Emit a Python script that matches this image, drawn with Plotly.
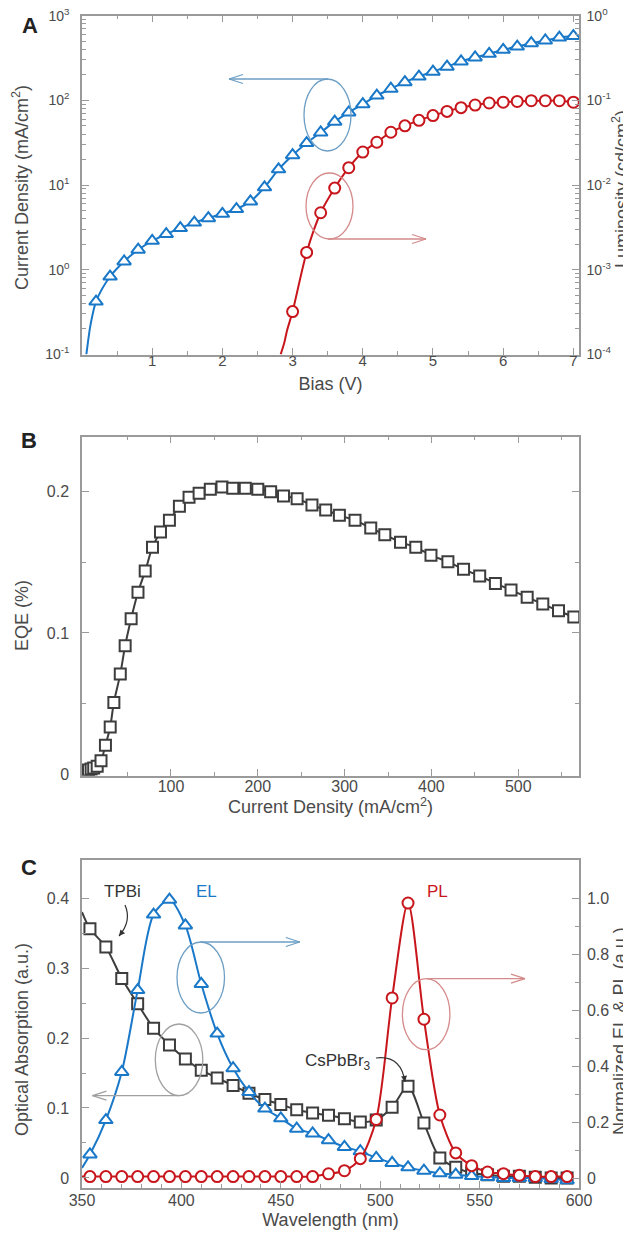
import plotly.graph_objects as go

FONT = "Liberation Sans, Arial, Helvetica, sans-serif"
TXT = "#4a4a4a"
AXC = "#9a9a9a"
BLUE = "#1a78c8"
RED = "#c8161d"
DARK = "#3d3d3d"
W, H = 631, 1234

# ---------------- Panel A data ----------------
bias_v = [0.2, 0.4, 0.6, 0.8, 1.0, 1.2, 1.4, 1.6, 1.8, 2.0, 2.2, 2.4, 2.6, 2.8, 3.0, 3.2, 3.4, 3.6,
          3.8, 4.0, 4.2, 4.4, 4.6, 4.8, 5.0, 5.2, 5.4, 5.6, 5.8, 6.0, 6.2, 6.4, 6.6, 6.8, 7.0]
current_density = [0.42, 0.83, 1.25, 1.72, 2.19, 2.63, 3.1, 3.6, 4.06, 4.57, 5.2, 6.4, 9.4, 15.3,
                   22.5, 31.3, 41.7, 56, 72, 90, 114, 137, 164, 191, 218, 250, 288, 321, 354, 395,
                   432, 473, 509, 552, 575]
j_onset_v = [0.062, 0.09, 0.12]
j_onset = [0.1, 0.15, 0.22]

lum_v = [3.0, 3.2, 3.4, 3.6, 3.8, 4.0, 4.2, 4.4, 4.6, 4.8, 5.0, 5.2, 5.4, 5.6, 5.8, 6.0, 6.2, 6.4,
         6.6, 6.8, 7.0]
luminosity = [3.2e-4, 1.6e-3, 4.7e-3, 9.2e-3, 1.6e-2, 2.45e-2, 3.2e-2, 4.2e-2, 5.0e-2, 5.8e-2,
              6.6e-2, 7.4e-2, 8.2e-2, 8.8e-2, 9.3e-2, 9.5e-2, 9.7e-2, 9.9e-2, 9.9e-2, 9.9e-2, 9.5e-2]
l_onset_v = [2.83, 2.88, 2.92]
l_onset = [1.0e-4, 1.35e-4, 1.9e-4]

# ---------------- Panel B data ----------------
eqe_j = [5, 8, 11, 15, 19.4, 24.5, 30, 34.2, 41.6, 47.2, 54.1, 62, 70.3, 78.7, 87.9, 98.2, 109.7,
         120.8, 132.4, 145.3, 158.8, 171.2, 185.6, 200, 214.8, 229.6, 245.3, 262.4, 278.2, 294,
         312, 330.1, 346.3, 364.4, 382, 399.5, 419, 437, 455.6, 473.7, 491.7, 510.3, 528.3,
         546.4, 564]
eqe = [0.0033, 0.004, 0.0047, 0.006, 0.0099, 0.0207, 0.0337, 0.051, 0.071, 0.091, 0.110, 0.1287,
       0.1437, 0.1605, 0.1713, 0.1795, 0.1894, 0.1958, 0.1986, 0.2014, 0.203, 0.2021, 0.2021,
       0.2014, 0.1997, 0.1967, 0.1948, 0.1903, 0.1868, 0.183, 0.1795, 0.1741, 0.1694, 0.164,
       0.1605, 0.1548, 0.1503, 0.1449, 0.1402, 0.135, 0.1303, 0.1252, 0.1205, 0.1157, 0.1113]

# ---------------- Panel C data ----------------
wavelength = [354, 362, 370, 378, 386, 394, 402, 410, 418, 426, 434, 442, 450, 458, 466, 474, 482,
              490, 498, 506, 514, 522, 530, 538, 546, 554, 562, 570, 578, 586, 594]
absorption = [0.356, 0.330, 0.285, 0.249, 0.214, 0.190, 0.170, 0.154, 0.143, 0.132, 0.121, 0.112,
              0.105, 0.0976, 0.0929, 0.0895, 0.0848, 0.080, 0.083, 0.101, 0.131, 0.0786, 0.0286,
              0.0152, 0.0071, 0.0048, 0.0024, 0.0024, 0.001, 0.0, 0.0]
el = [0.084, 0.207, 0.379, 0.671, 0.941, 0.994, 0.902, 0.693, 0.516, 0.392, 0.307, 0.248, 0.213,
      0.176, 0.159, 0.135, 0.111, 0.0956, 0.0717, 0.0538, 0.038, 0.026, 0.0167, 0.012, 0.007,
      0.0036, 0.0, 0.0, 0.0, -0.004, -0.008]
pl = [0.005, 0.005, 0.005, 0.005, 0.005, 0.005, 0.005, 0.005, 0.005, 0.005, 0.005, 0.005, 0.005,
      0.005, 0.005, 0.015, 0.026, 0.069, 0.209, 0.643, 0.982, 0.567, 0.225, 0.0896, 0.044, 0.0215,
      0.0155, 0.0096, 0.005, 0.005, 0.005]
edge_wl = [350]
absorption_edge = [0.38]
el_edge = [0.036]
pl_edge = [0.005]

fig = go.Figure()

def line_trace(x, y, color, xa, ya, width=2):
    return go.Scatter(x=x, y=y, mode="lines", xaxis=xa, yaxis=ya, showlegend=False,
                      line=dict(color=color, width=width, shape="spline", smoothing=0.8),
                      hoverinfo="skip")

def mark_trace(x, y, color, symbol, size, xa, ya):
    return go.Scatter(x=x, y=y, mode="markers", xaxis=xa, yaxis=ya, showlegend=False,
                      marker=dict(symbol=symbol, size=size, color="white",
                                  line=dict(color=color, width=2)))

# A
fig.add_trace(line_trace(j_onset_v + bias_v, j_onset + current_density, BLUE, "x", "y"))
fig.add_trace(mark_trace(bias_v, current_density, BLUE, "triangle-up", 12, "x", "y"))
fig.add_trace(line_trace(l_onset_v + lum_v, l_onset + luminosity, RED, "x", "y2"))
fig.add_trace(mark_trace(lum_v, luminosity, RED, "circle", 11, "x", "y2"))
# B
fig.add_trace(line_trace(eqe_j, eqe, DARK, "x2", "y3"))
fig.add_trace(mark_trace(eqe_j, eqe, DARK, "square", 11, "x2", "y3"))
# C
fig.add_trace(line_trace(edge_wl + wavelength, absorption_edge + absorption, DARK, "x3", "y4"))
fig.add_trace(mark_trace(wavelength, absorption, DARK, "square", 11, "x3", "y4"))
fig.add_trace(line_trace(edge_wl + wavelength, el_edge + el, BLUE, "x3", "y5"))
fig.add_trace(mark_trace(wavelength, el, BLUE, "triangle-up", 12, "x3", "y5"))
fig.add_trace(line_trace(edge_wl + wavelength, pl_edge + pl, RED, "x3", "y5"))
fig.add_trace(mark_trace(wavelength, pl, RED, "circle", 11, "x3", "y5"))

def px_x(px):
    return px / W

def px_y(py):
    return 1 - py / H

domx = [px_x(74), px_x(571)]
domA = [px_y(346.5), px_y(7.5)]
domB = [px_y(767.7), px_y(428.7)]
domC = [px_y(1180), px_y(852)]

tick16 = dict(family=FONT, size=16, color=TXT)
tick15 = dict(family=FONT, size=15, color=TXT)
tick14 = dict(family=FONT, size=14, color=TXT)
TITLE_SIZE = 18
titlefont = dict(family=FONT, size=TITLE_SIZE, color=TXT)

def axis(**kw):
    base = dict(showline=True, linecolor=AXC, linewidth=1.5, ticks="inside", ticklen=7,
                tickcolor=AXC, tickwidth=1.2, showgrid=False, zeroline=False,
                tickfont=tick16, automargin=False, ticklabeloverflow="allow")
    base.update(kw)
    return base

logminor_j = [k * 10.0 ** e for e in range(-1, 3) for k in range(2, 10)]
logminor_l = [k * 10.0 ** e for e in range(-4, 0) for k in range(2, 10)]
minor_log = lambda vals: dict(ticks="inside", ticklen=4, tickcolor=AXC, tickvals=vals)

LEFT_OFF = 8
RIGHT_OFF = 3

fig.update_layout(
    width=W, height=H, margin=dict(l=0, r=0, t=0, b=0),
    paper_bgcolor="white", plot_bgcolor="white",
    font=dict(family=FONT, color=TXT),
    xaxis=axis(domain=domx, anchor="y", range=[0, 7.08], tickvals=[1, 2, 3, 4, 5, 6, 7],
               tickfont=tick15, ticklabelstandoff=-8,
               minor=dict(ticks="inside", ticklen=4, tickcolor=AXC,
                          tickvals=[0.5, 1.5, 2.5, 3.5, 4.5, 5.5, 6.5]),
               mirror="ticks",
               title=dict(text="Bias (V)", font=titlefont, standoff=9)),
    yaxis=axis(domain=domA, anchor="x", type="log", range=[-1.002, 3.002],
               tickvals=[0.1, 1, 10, 100, 1000], tickfont=tick14, ticklabelstandoff=LEFT_OFF,
               ticktext=["10<sup>-1</sup>", "10<sup>0</sup>", "10<sup>1</sup>", "10<sup>2</sup>",
                         "10<sup>3</sup>"],
               minor=minor_log(logminor_j)),
    yaxis2=axis(domain=domA, anchor="x", overlaying="y", side="right", type="log",
                range=[-4.002, 0.002], tickfont=tick14, ticklabelstandoff=RIGHT_OFF,
                tickvals=[1e-4, 1e-3, 1e-2, 1e-1, 1],
                ticktext=["10<sup>-4</sup>", "10<sup>-3</sup>", "10<sup>-2</sup>",
                          "10<sup>-1</sup>", "10<sup>0</sup>"],
                minor=minor_log(logminor_l)),
    xaxis2=axis(domain=domx, anchor="y3", range=[-2.5, 570], tickvals=[100, 200, 300, 400, 500],
                ticklabelstandoff=-5,
                minor=dict(ticks="inside", ticklen=4, tickcolor=AXC,
                           tickvals=[50, 150, 250, 350, 450, 550]),
                mirror="ticks",
                title=dict(text="Current Density (mA/cm<sup>2</sup>)", font=titlefont, standoff=7)),
    yaxis3=axis(domain=domB, anchor="x2", range=[-0.0007, 0.2385], tickvals=[0, 0.1, 0.2],
                ticktext=["0", "0.1", "0.2"], ticklabelstandoff=LEFT_OFF,
                minor=dict(ticks="inside", ticklen=4, tickcolor=AXC, tickvals=[0.05, 0.15]),
                mirror="ticks"),
    xaxis3=axis(domain=domx, anchor="y4", range=[350, 600],
                tickvals=[350, 400, 450, 500, 550, 600], ticklabelstandoff=-3,
                minor=dict(ticks="inside", ticklen=4, tickcolor=AXC, dtick=10, tick0=350),
                mirror=True,
                title=dict(text="Wavelength (nm)", font=titlefont, standoff=5)),
    yaxis4=axis(domain=domC, anchor="x3", range=[-0.0143, 0.4543], ticklabelstandoff=LEFT_OFF,
                tickvals=[0, 0.1, 0.2, 0.3, 0.4], ticktext=["0", "0.1", "0.2", "0.3", "0.4"],
                minor=dict(ticks="inside", ticklen=4, tickcolor=AXC,
                           tickvals=[0.05, 0.15, 0.25, 0.35])),
    yaxis5=axis(domain=domC, anchor="x3", overlaying="y4", side="right", ticklabelstandoff=RIGHT_OFF,
                range=[-0.0357, 1.1357], tickvals=[0, 0.2, 0.4, 0.6, 0.8, 1.0],
                ticktext=["0", "0.2", "0.4", "0.6", "0.8", "1.0"],
                minor=dict(ticks="inside", ticklen=4, tickcolor=AXC,
                           tickvals=[0.1, 0.3, 0.5, 0.7, 0.9])),
)

# Vertical axis titles (placed as rotated text; x shifted to compensate rotation offset)
ytitles = [("Current Density (mA/cm<sup>2</sup>)", 22, 180),
           ("Luminosity (cd/cm<sup>2</sup>)", 621, 181),
           ("EQE (%)", 23, 608),
           ("Optical Absorption (a.u.)", 23, 1032),
           ("Normalized EL &amp; PL (a.u.)", 621, 1023)]
for t, tx, ty in ytitles:
    fig.add_annotation(x=px_x(tx), y=px_y(ty), xref="paper", yref="paper", text=t,
                       textangle=-90, showarrow=False, font=titlefont, xshift=-9,
                       xanchor="center", yanchor="middle")

# Panel letters
for letter, (lx, ly) in {"A": (22, 17), "B": (21, 433), "C": (21, 859)}.items():
    fig.add_annotation(x=px_x(lx), y=px_y(ly), xref="paper", yref="paper", text="<b>%s</b>" % letter,
                       showarrow=False, font=dict(family=FONT, size=22, color="#222222"),
                       xanchor="center", yanchor="middle")

BLUE_L = "#6d9ec4"
RED_L = "#d58b8b"
GRAY_L = "#a0a0a0"

def seg(x0, y0, x1, y1, color, width=1.3):
    fig.add_shape(type="line", xref="paper", yref="paper", x0=px_x(x0), y0=px_y(y0),
                  x1=px_x(x1), y1=px_y(y1), line=dict(color=color, width=width))

def ellipse(x0, x1, y0, y1, color):
    fig.add_shape(type="circle", xref="paper", yref="paper", x0=px_x(x0), x1=px_x(x1),
                  y0=px_y(y1), y1=px_y(y0), line=dict(color=color, width=1.3))

def arrow(tail_x, head_x, yy, color):
    seg(tail_x, yy, head_x, yy, color)
    d = 1 if head_x > tail_x else -1
    seg(head_x, yy, head_x - d * 14, yy - 4.5, color)
    seg(head_x, yy, head_x - d * 14, yy + 4.5, color)

# Panel A indicators
ellipse(296, 343, 71, 143, BLUE_L)
arrow(320, 221, 71, BLUE_L)
ellipse(298, 345, 165, 231, RED_L)
arrow(320, 418, 231, RED_L)

# Panel C indicators
ellipse(169, 216.5, 934, 1005, BLUE_L)
arrow(192.4, 291.8, 934, BLUE_L)
ellipse(147.3, 194.8, 1016, 1087.7, GRAY_L)
arrow(171, 84.5, 1087.7, GRAY_L)
ellipse(394.4, 441.9, 970.7, 1041.7, RED_L)
arrow(418.5, 517, 970.7, RED_L)

# Panel C labels
labels = [("TPBi", 114.7, 883, "#333333"), ("EL", 199, 883, BLUE), ("PL", 430, 883, RED),
          ("CsPbBr<sub>3</sub>", 330, 1054, "#333333")]
for t, lx, ly, c in labels:
    fig.add_annotation(x=px_x(lx), y=px_y(ly), xref="paper", yref="paper", text=t,
                       showarrow=False, font=dict(family=FONT, size=17, color=c),
                       xanchor="center", yanchor="middle")

def curved(p0, c, p1, head_off):
    path = "M %f,%f Q %f,%f %f,%f" % (px_x(p0[0]), px_y(p0[1]), px_x(c[0]), px_y(c[1]),
                                      px_x(p1[0]), px_y(p1[1]))
    fig.add_shape(type="path", xref="paper", yref="paper", path=path,
                  line=dict(color="#333333", width=1.2))
    fig.add_annotation(x=px_x(p1[0]), y=px_y(p1[1]), xref="paper", yref="paper", text="",
                       ax=head_off[0], ay=head_off[1], showarrow=True, arrowhead=2,
                       arrowsize=1.0, arrowwidth=1.2, arrowcolor="#333333")

curved((117, 897), (124, 913), (111, 928), (4, -5))
curved((368, 1050), (393, 1047), (397, 1074), (-1, -6))

fig.write_html("out.html")
